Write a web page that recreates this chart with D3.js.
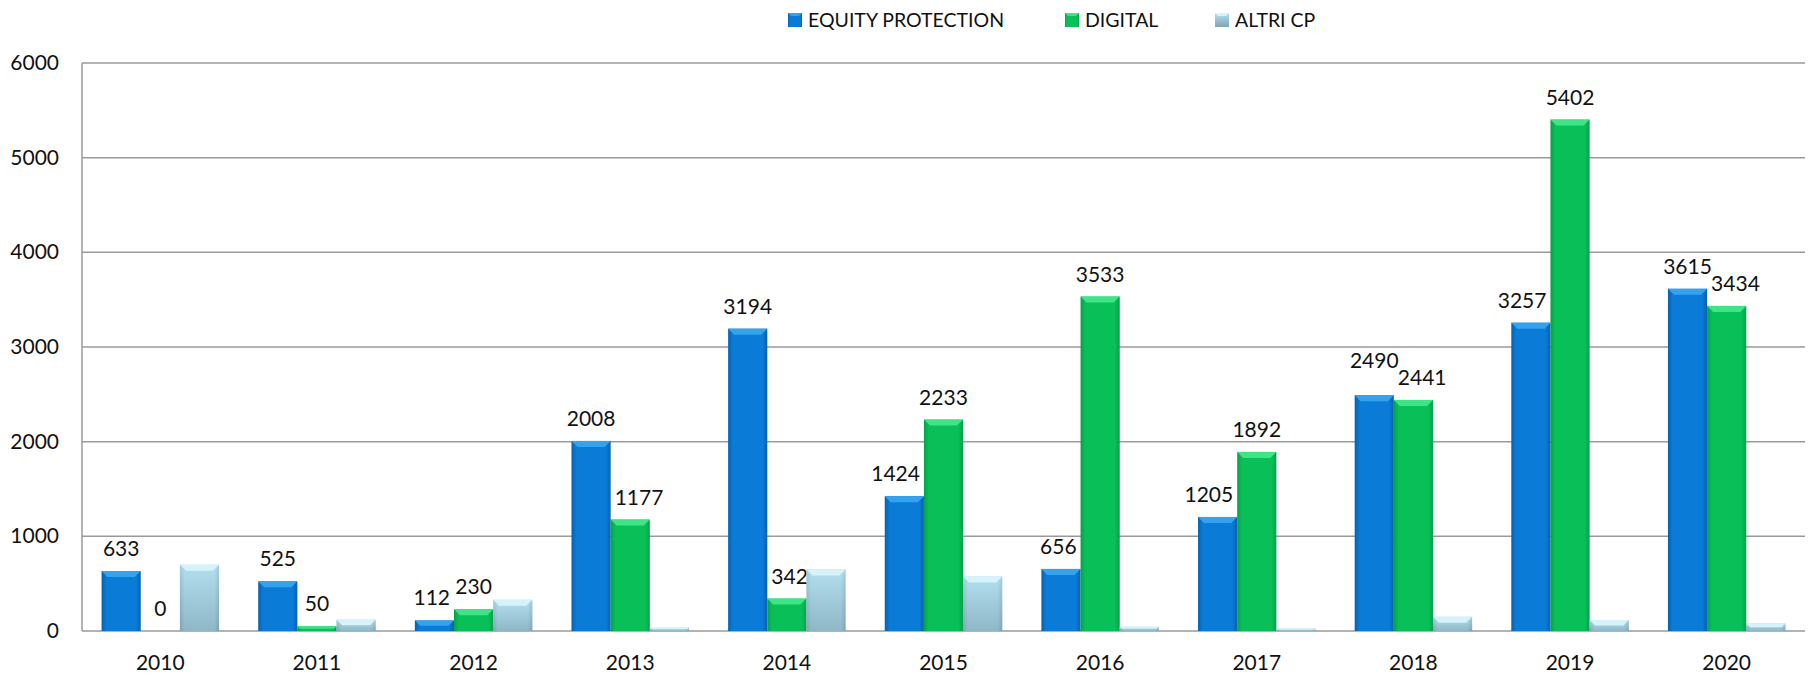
<!DOCTYPE html>
<html>
<head>
<meta charset="utf-8">
<script src="https://cdn.jsdelivr.net/npm/d3@7"></script>
<style>
  body { margin: 0; background: #fff; }
  svg { display: block; font-family: Lato, 'Open Sans', sans-serif; }
  .tick-label { font-size: 21px; fill: #111; }
  .value-label { font-size: 21px; fill: #111; }
  .legend-label { font-size: 19.5px; fill: #111; }
</style>
</head>
<body>
<div id="chart"></div>
<script>
const years = ['2010', '2011', '2012', '2013', '2014', '2015', '2016', '2017', '2018', '2019', '2020'];
const seriesNames = ['EQUITY PROTECTION', 'DIGITAL', 'ALTRI CP'];
const equityProtection = [633, 525, 112, 2008, 3194, 1424, 656, 1205, 2490, 3257, 3615];
const digital = [0, 50, 230, 1177, 342, 2233, 3533, 1892, 2441, 5402, 3434];
const altriCp = [700, 120, 330, 35, 650, 575, 45, 25, 150, 115, 80];
const yTicks = [0, 1000, 2000, 3000, 4000, 5000, 6000];

const width = 1808;
const height = 675;
const margin = { top: 63, right: 3, bottom: 44, left: 82 };

// colours per series: top bevel, face, shaded edge
const palette = [
  { id: 'ep', top: '#35a2ee', light: '#0a7bd6', dark: '#0562ad' },
  { id: 'dg', top: '#3fe486', light: '#08bf58', dark: '#06a049' },
  { id: 'ac', top: '#d6f2fb', light: '#aedcec', dark: '#7ea3b3' }
];

const values = [equityProtection, digital, altriCp];
const rows = years.map((y, i) => ({
  year: y,
  items: seriesNames.map((s, k) => ({ key: s, k, value: values[k][i], row: i }))
}));

const svg = d3.select('#chart').append('svg')
  .attr('width', width)
  .attr('height', height);

const defs = svg.append('defs');
palette.forEach(p => {
  const g = defs.append('linearGradient')
    .attr('id', 'grad-' + p.id)
    .attr('x1', 0).attr('x2', 1).attr('y1', 0).attr('y2', 0);
  g.append('stop').attr('offset', '0%').attr('stop-color', p.dark);
  g.append('stop').attr('offset', '12%').attr('stop-color', p.light);
  g.append('stop').attr('offset', '88%').attr('stop-color', p.light);
  g.append('stop').attr('offset', '100%').attr('stop-color', p.dark);
});
// ALTRI CP also fades from light to grey-blue downwards
const gv = defs.append('linearGradient')
  .attr('id', 'grad-ac-v')
  .attr('x1', 0).attr('x2', 0).attr('y1', 0).attr('y2', 1);
gv.append('stop').attr('offset', '0%').attr('stop-color', '#b4e1f1');
gv.append('stop').attr('offset', '100%').attr('stop-color', '#7fa3b2');

const x0 = d3.scaleBand()
  .domain(years)
  .range([margin.left, width - margin.right])
  .paddingInner(0.25)
  .paddingOuter(0.125);

const x1 = d3.scaleBand()
  .domain(seriesNames)
  .range([0, x0.bandwidth()]);

const y = d3.scaleLinear()
  .domain([0, 6000])
  .range([height - margin.bottom, margin.top]);

// gridlines
svg.append('g')
  .selectAll('line')
  .data(yTicks)
  .join('line')
  .attr('x1', margin.left)
  .attr('x2', width - margin.right)
  .attr('y1', d => y(d))
  .attr('y2', d => y(d))
  .attr('stroke', '#9a9a9a')
  .attr('stroke-width', 1.5);

// left axis line
svg.append('line')
  .attr('x1', margin.left).attr('x2', margin.left)
  .attr('y1', y(6000)).attr('y2', y(0))
  .attr('stroke', '#9a9a9a')
  .attr('stroke-width', 1.5);

svg.append('g')
  .selectAll('text')
  .data(yTicks)
  .join('text')
  .attr('class', 'tick-label')
  .attr('x', margin.left - 23)
  .attr('y', d => y(d) + 7)
  .attr('text-anchor', 'end')
  .text(d => d);

svg.append('g')
  .selectAll('text')
  .data(years)
  .join('text')
  .attr('class', 'tick-label')
  .attr('x', d => x0(d) + x0.bandwidth() / 2)
  .attr('y', height - 5)
  .attr('text-anchor', 'middle')
  .text(d => d);

// bars
const groups = svg.append('g')
  .selectAll('g')
  .data(rows)
  .join('g')
  .attr('transform', d => `translate(${x0(d.year)},0)`);

const bars = groups.selectAll('g')
  .data(d => d.items)
  .join('g');

const bevel = 6;

bars.append('rect')
  .attr('x', d => x1(d.key))
  .attr('y', d => y(d.value))
  .attr('width', x1.bandwidth())
  .attr('height', d => y(0) - y(d.value))
  .attr('fill', d => d.k === 2 ? 'url(#grad-ac-v)' : `url(#grad-${palette[d.k].id})`);

bars.filter(d => d.k === 2).append('rect')
  .attr('x', d => x1(d.key))
  .attr('y', d => y(d.value))
  .attr('width', x1.bandwidth())
  .attr('height', d => y(0) - y(d.value))
  .attr('fill', 'url(#grad-ac)')
  .attr('opacity', 0.35);

// top bevel strip
bars.filter(d => y(0) - y(d.value) > 1).append('path')
  .attr('d', d => {
    const xl = x1(d.key);
    const xr = xl + x1.bandwidth();
    const t = y(d.value);
    const b = Math.min(bevel, (y(0) - t) / 2);
    return `M${xl},${t}L${xr},${t}L${xr - b},${t + b}L${xl + b},${t + b}Z`;
  })
  .attr('fill', d => palette[d.k].top);

// value labels (first two series)
const labels = bars.filter(d => d.k < 2).append('text')
  .attr('class', 'value-label')
  .attr('x', d => x1(d.key) + x1.bandwidth() / 2)
  .attr('y', d => y(d.value) - 15)
  .attr('text-anchor', 'middle')
  .text(d => d.value);

// keep labels clear of a taller neighbouring bar
labels.attr('dx', function(d) {
  const half = this.getComputedTextLength() / 2;
  const push = Math.max(0, half - x1.bandwidth() / 2 + 4);
  if (d.k === 0 && digital[d.row] > d.value) return -push;
  if (d.k === 1 && equityProtection[d.row] > d.value) return push;
  return 0;
});

// lift the higher label of a pair when the two collide
groups.each(function(row) {
  const t = d3.select(this).selectAll('text.value-label').nodes();
  if (t.length < 2) return;
  const a = t[0].getBBox();
  const b = t[1].getBBox();
  const overlapX = a.x + a.width > b.x && b.x + b.width > a.x;
  const gap = 17;
  const ya = +t[0].getAttribute('y');
  const yb = +t[1].getAttribute('y');
  if (overlapX && Math.abs(ya - yb) < gap) {
    if (ya <= yb) t[0].setAttribute('y', yb - gap);
    else t[1].setAttribute('y', ya - gap);
  }
});

// legend
const legendX = [788, 1065, 1215];
const legend = svg.append('g')
  .selectAll('g')
  .data(seriesNames)
  .join('g')
  .attr('transform', (d, i) => `translate(${legendX[i]},13)`);

legend.append('rect')
  .attr('width', 14)
  .attr('height', 14)
  .attr('fill', (d, i) => i === 2 ? 'url(#grad-ac-v)' : `url(#grad-${palette[i].id})`);

legend.append('path')
  .attr('d', 'M0,0L14,0L11,3L3,3Z')
  .attr('fill', (d, i) => palette[i].top);

legend.append('text')
  .attr('class', 'legend-label')
  .attr('x', 20)
  .attr('y', 14)
  .text(d => d);
</script>
</body>
</html>
